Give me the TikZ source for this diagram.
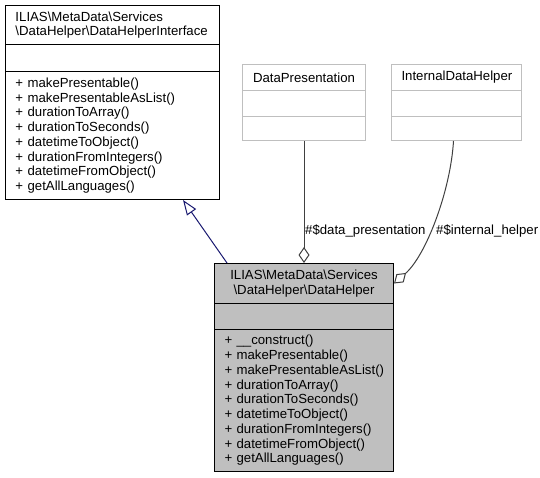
\documentclass[tikz,border=0pt]{standalone}
\usepackage{fontspec}
\setmainfont{Liberation Sans}
\usetikzlibrary{arrows.meta}
\definecolor{edgeblue}{HTML}{191970}
\definecolor{edgegray}{HTML}{404040}
\definecolor{boxgray}{HTML}{BFBFBF}
\definecolor{lightborder}{HTML}{BFBFBF}
\newcommand{\dgfont}{\fontsize{13.2}{14.75}\selectfont\hyphenpenalty=10000 \exhyphenpenalty=10000 \hbadness=10000 \hfuzz=20pt }
\begin{document}
\begin{tikzpicture}[x=1pt,y=-1pt,
  font=\dgfont,
  every node/.style={inner sep=0pt},
  part/.style={draw, line width=1pt, rectangle, anchor=north west, inner xsep=10pt, inner ysep=0pt, text width=#1},
  leftpart/.style={part=#1, align=left},
  midpart/.style={part=#1, align=center},
  ifbox/.style={draw=black, fill=white},
  plainbox/.style={draw=lightborder, fill=white},
  curbox/.style={draw=black, fill=boxgray},
  inherit/.style={draw=edgeblue, line width=1pt, -{Triangle[open, length=15pt, width=11pt, fill=white]}},
  aggr/.style={draw=edgegray, line width=1pt, {Diamond[open, length=16pt, width=11pt, fill=white]}-},
  elabel/.style={anchor=base west, text=black}
]
\useasboundingbox (0,0) rectangle (540,477);

% Interface
\node[leftpart=194pt, ifbox, minimum height=39pt] (ifhead) at (5,5)
  {ILIAS\textbackslash MetaData\textbackslash Services\\\textbackslash DataHelper\textbackslash DataHelperInterface};
\node[part=194pt, ifbox, minimum height=27pt] (ifattr) at (5,44) {};
\node[leftpart=194pt, ifbox, minimum height=128pt] (ifmeth) at (5,71)
  {+~makePresentable()\\+~makePresentableAsList()\\+~durationToArray()\\+~durationToSeconds()\\+~datetimeToObject()\\+~durationFromIntegers()\\+~datetimeFromObject()\\+~getAllLanguages()};

% DataPresentation
\node[midpart=103pt, plainbox, minimum height=26pt] (dphead) at (242,64) {DataPresentation};
\node[part=103pt, plainbox, minimum height=26pt] (dpattr) at (242,90) {};
\node[part=103pt, plainbox, minimum height=24pt] (dpmeth) at (242,116) {};

% InternalDataHelper
\node[midpart=110pt, plainbox, minimum height=26pt] (idhead) at (391,64) {InternalDataHelper};
\node[part=110pt, plainbox, minimum height=26pt] (idattr) at (391,90) {};
\node[part=110pt, plainbox, minimum height=24pt] (idmeth) at (391,116) {};

% DataHelper
\node[midpart=159pt, curbox, minimum height=40pt] (dhhead) at (214,263)
  {ILIAS\textbackslash MetaData\textbackslash Services\\\textbackslash DataHelper\textbackslash DataHelper};
\node[part=159pt, curbox, minimum height=26pt] (dhattr) at (214,303) {};
\node[leftpart=159pt, curbox, minimum height=142pt] (dhmeth) at (214,329)
  {+~\_\_construct()\\+~makePresentable()\\+~makePresentableAsList()\\+~durationToArray()\\+~durationToSeconds()\\+~datetimeToObject()\\+~durationFromIntegers()\\+~datetimeFromObject()\\+~getAllLanguages()};

% Connectors
\coordinate (inhS) at ([xshift=13pt]dhhead.north west);
\coordinate (inhE) at ([xshift=-37pt]ifmeth.south east);
\draw[inherit] (inhS) -- (inhE);

\coordinate (dpS) at (dpmeth.south |- dhhead.north);
\draw[aggr] (dpS) -- (dpmeth.south);

\coordinate (idE) at ([xshift=-3pt]idmeth.south);
\draw[aggr] (dhhead.east) .. controls +(32,-28) and +(-3,50) .. (idE);

\node[elabel] (lbldp) at (305,234) {\#\$data\_presentation};
\node[elabel] (lblid) at (436,234) {\#\$internal\_helper};
\end{tikzpicture}
\end{document}
